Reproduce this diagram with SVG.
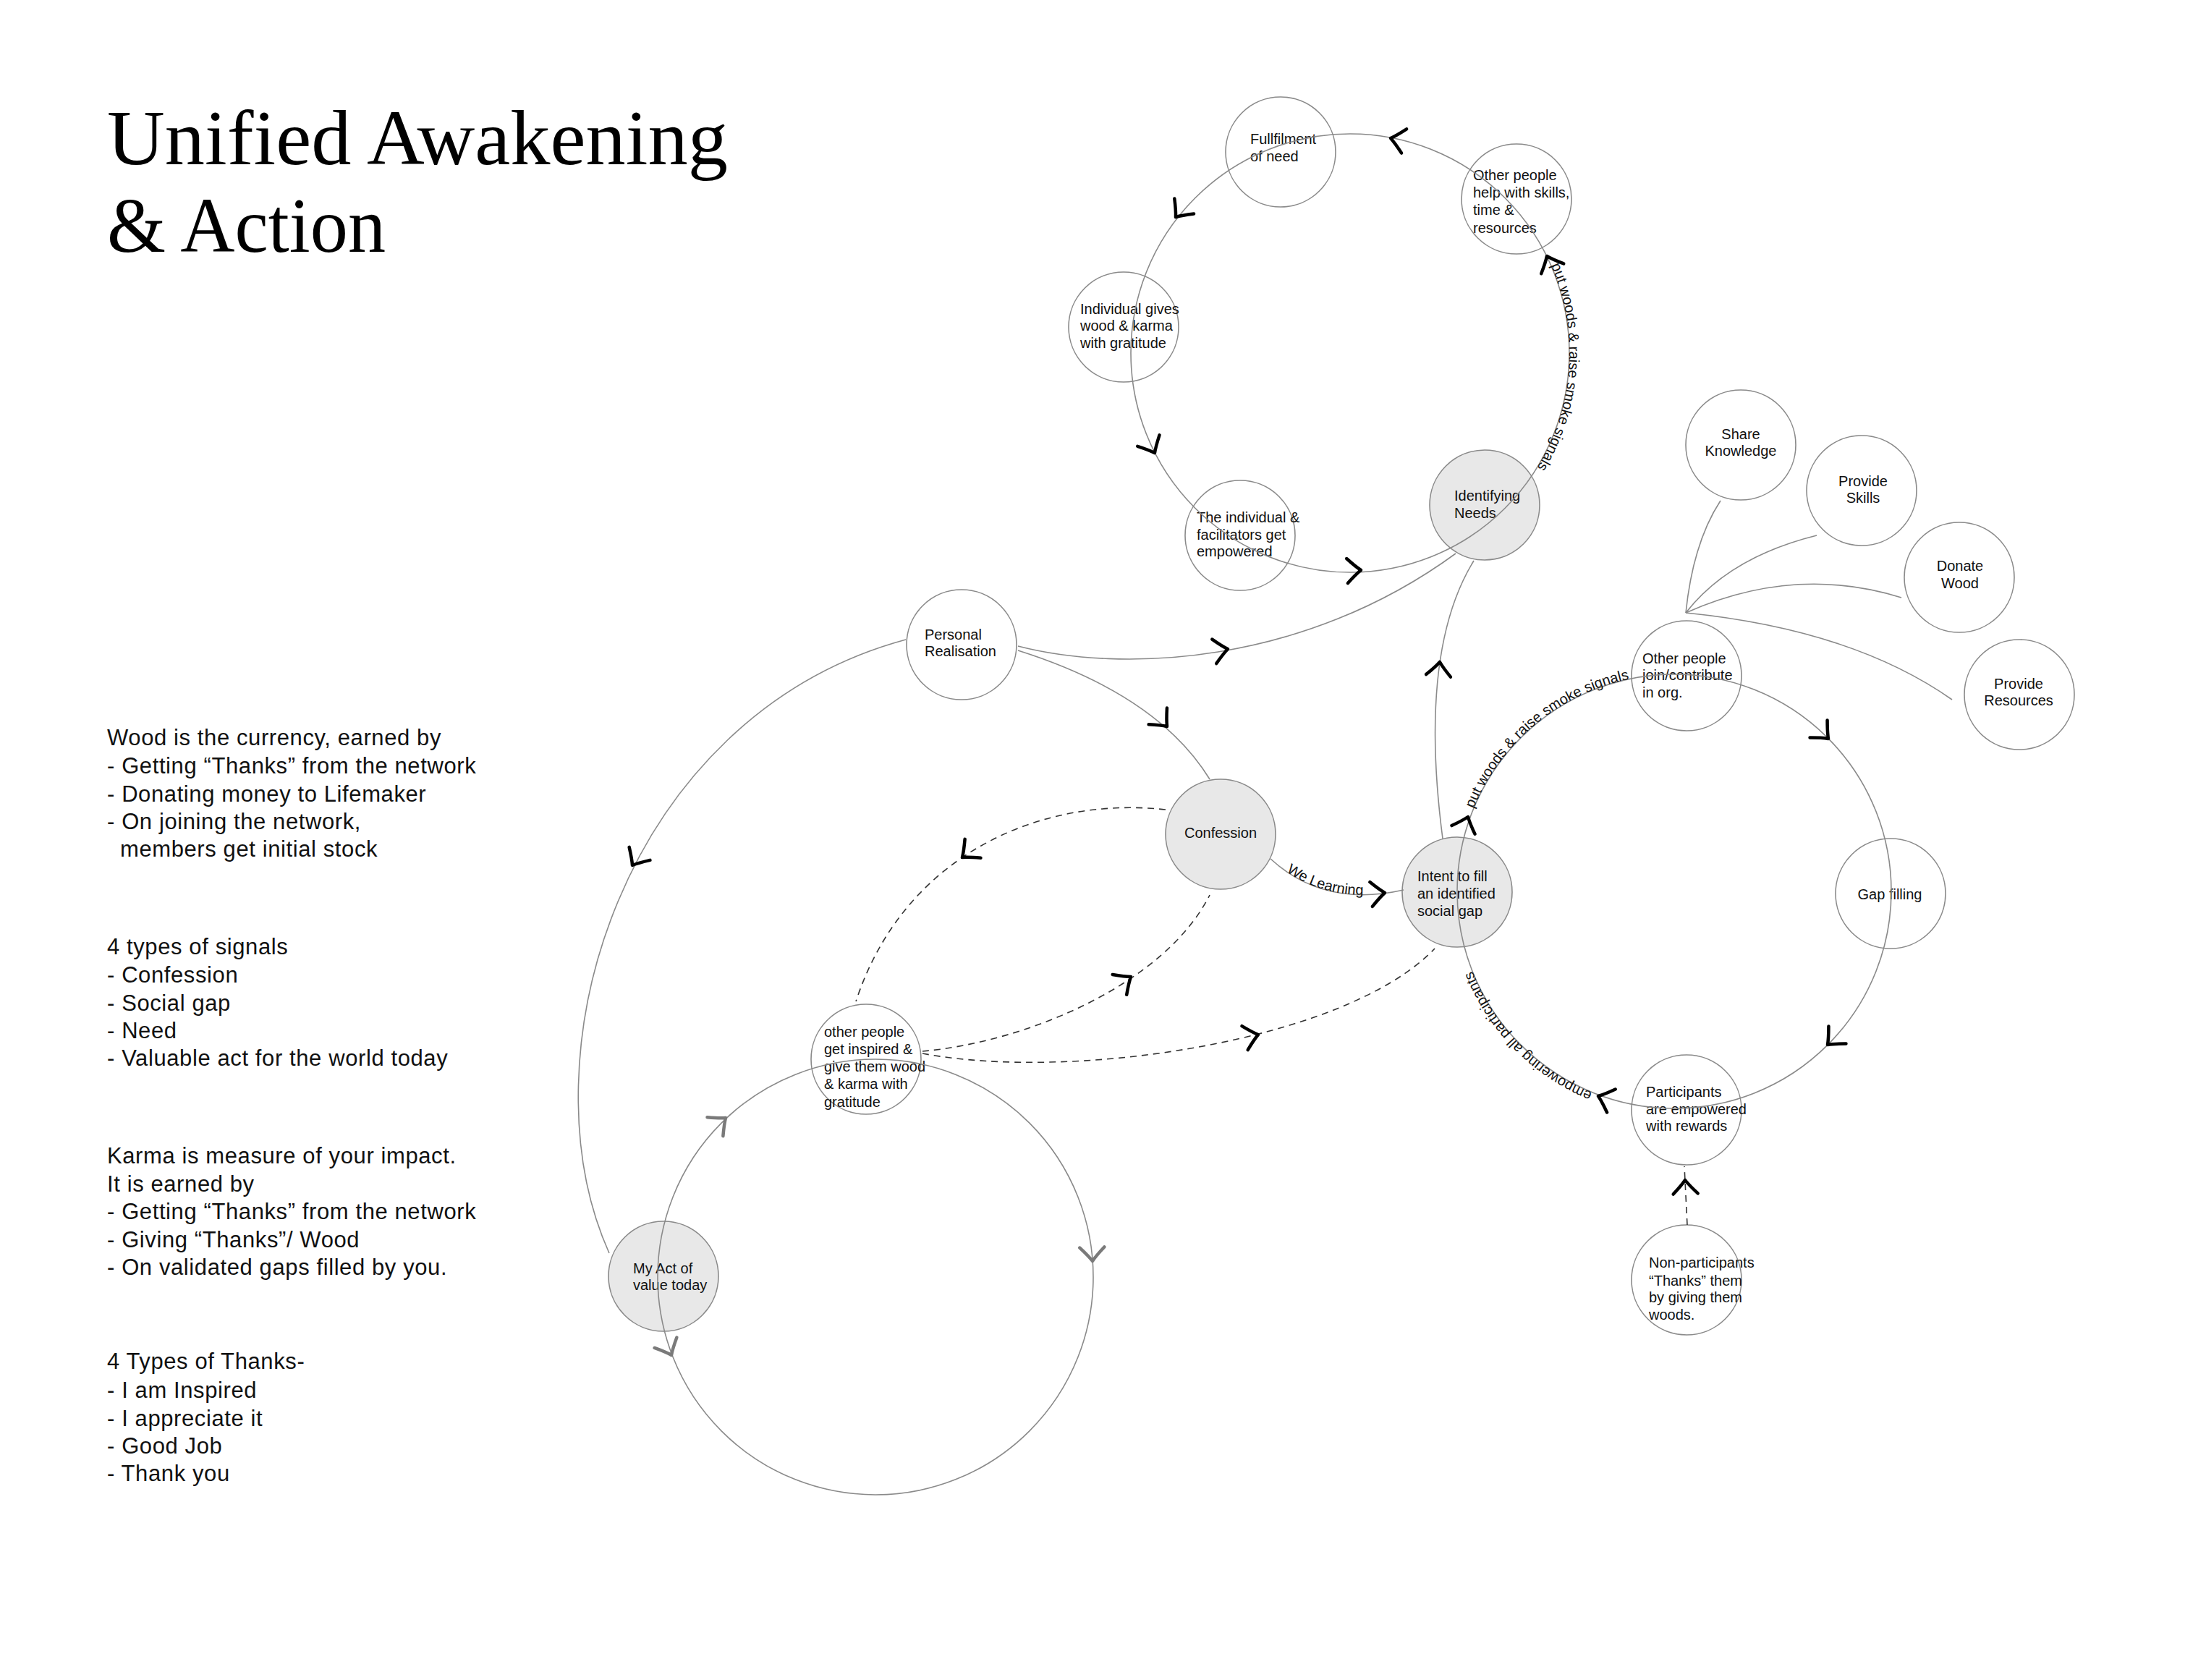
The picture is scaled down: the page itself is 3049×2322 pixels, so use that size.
<svg xmlns="http://www.w3.org/2000/svg" xmlns:xlink="http://www.w3.org/1999/xlink" width="3049" height="2322" viewBox="0 0 3049 2322">
<style>
.node{fill:#ffffff;stroke:#8a8a8a;stroke-width:1.6}
.node.sig{fill:#e8e8e8}
.nt{font-family:"Liberation Sans",Arial,sans-serif;font-size:20px;fill:#111}
.ntc{font-family:"Liberation Sans",Arial,sans-serif;font-size:20px;fill:#111;text-anchor:middle}
.ln{fill:none;stroke:#8a8a8a;stroke-width:1.6}
.dash{fill:none;stroke:#333;stroke-width:1.6;stroke-dasharray:9 7}
.ah{fill:none;stroke:#000;stroke-width:4.5;stroke-linecap:round;stroke-linejoin:round}
.ahg{fill:none;stroke:#7a7a7a;stroke-width:4.5;stroke-linecap:round;stroke-linejoin:round}
.lab{font-family:"Liberation Sans",Arial,sans-serif;font-size:20px;fill:#111}
.title{font-family:"Liberation Serif","Times New Roman",serif;font-size:108px;fill:#000}
.body{font-family:"Liberation Sans",Arial,sans-serif;font-size:31px;fill:#111;letter-spacing:0.6px}
</style>
<defs>
<path id="chev" d="M-19,-17 Q-7,-5 0,0 Q-7,5 -19,17"/>
<path id="tpTop" d="M2142.8,364.8 A303,303 0 0 1 2098.1,682.8"/>
<path id="tpRight1" d="M2035.8,1119.6 A300,300 0 0 1 2251.6,938.6"/>
<path id="tpRight2" d="M2206.5,1512.1 A300,300 0 0 1 2032.1,1334.6"/>
<path id="tpLearn" d="M1756,1187 Q1830,1255 1940,1230"/>
</defs>
<rect width="3049" height="2322" fill="#ffffff"/>

<g id="title">
<text class="title" x="148" y="227" textLength="858" lengthAdjust="spacingAndGlyphs">Unified Awakening</text>
<text class="title" x="148" y="348" textLength="385" lengthAdjust="spacingAndGlyphs">&amp; Action</text>
</g>

<g id="notes">
<text class="body" x="148" y="1030">Wood is the currency, earned by</text>
<text class="body" x="148" y="1069">- Getting “Thanks” from the network</text>
<text class="body" x="148" y="1108">- Donating money to Lifemaker</text>
<text class="body" x="148" y="1146">- On joining the network,</text>
<text class="body" x="166" y="1184">members get initial stock</text>
<text class="body" x="148" y="1319">4 types of signals</text>
<text class="body" x="148" y="1358">- Confession</text>
<text class="body" x="148" y="1397">- Social gap</text>
<text class="body" x="148" y="1435">- Need</text>
<text class="body" x="148" y="1473">- Valuable act for the world today</text>
<text class="body" x="148" y="1608">Karma is measure of your impact.</text>
<text class="body" x="148" y="1647">It is earned by</text>
<text class="body" x="148" y="1685">- Getting “Thanks” from the network</text>
<text class="body" x="148" y="1724">- Giving “Thanks”/ Wood</text>
<text class="body" x="148" y="1762">- On validated gaps filled by you.</text>
<text class="body" x="148" y="1892">4 Types of Thanks-</text>
<text class="body" x="148" y="1932">- I am Inspired</text>
<text class="body" x="148" y="1971">- I appreciate it</text>
<text class="body" x="148" y="2009">- Good Job</text>
<text class="body" x="148" y="2047">- Thank you</text>
</g>

<g id="n-fulfilment">
<circle class="node" cx="1770" cy="210" r="76"/>
<text class="nt" x="1728" y="199">Fullfilment</text>
<text class="nt" x="1728" y="223">of need</text>
</g>
<g id="n-help">
<circle class="node" cx="2096" cy="275" r="76"/>
<text class="nt" x="2036" y="249">Other people</text>
<text class="nt" x="2036" y="273">help with skills,</text>
<text class="nt" x="2036" y="297">time &amp;</text>
<text class="nt" x="2036" y="322">resources</text>
</g>
<g id="n-gives">
<circle class="node" cx="1553" cy="452" r="76"/>
<text class="nt" x="1493" y="434">Individual gives</text>
<text class="nt" x="1493" y="457">wood &amp; karma</text>
<text class="nt" x="1493" y="481">with gratitude</text>
</g>
<g id="n-empowered">
<circle class="node" cx="1714" cy="740" r="76"/>
<text class="nt" x="1654" y="722">The individual &amp;</text>
<text class="nt" x="1654" y="746">facilitators get</text>
<text class="nt" x="1654" y="769">empowered</text>
</g>
<g id="n-needs">
<circle class="node sig" cx="2052" cy="698" r="76"/>
<text class="nt" x="2010" y="692">Identifying</text>
<text class="nt" x="2010" y="716">Needs</text>
</g>
<g id="n-realisation">
<circle class="node" cx="1329" cy="891" r="76"/>
<text class="nt" x="1278" y="884">Personal</text>
<text class="nt" x="1278" y="907">Realisation</text>
</g>
<g id="n-confession">
<circle class="node sig" cx="1687" cy="1153" r="76"/>
<text class="ntc" x="1687" y="1158">Confession</text>
</g>
<g id="n-intent">
<circle class="node sig" cx="2014" cy="1233" r="76"/>
<text class="nt" x="1959" y="1218">Intent to fill</text>
<text class="nt" x="1959" y="1242">an identified</text>
<text class="nt" x="1959" y="1266">social gap</text>
</g>
<g id="n-join">
<circle class="node" cx="2331" cy="934" r="76"/>
<text class="nt" x="2270" y="917">Other people</text>
<text class="nt" x="2270" y="940">join/contribute</text>
<text class="nt" x="2270" y="964">in org.</text>
</g>
<g id="n-gap">
<circle class="node" cx="2613" cy="1235" r="76"/>
<text class="ntc" x="2612" y="1243">Gap filling</text>
</g>
<g id="n-participants">
<circle class="node" cx="2331" cy="1534" r="76"/>
<text class="nt" x="2275" y="1516">Participants</text>
<text class="nt" x="2275" y="1540">are empowered</text>
<text class="nt" x="2275" y="1563">with rewards</text>
</g>
<g id="n-nonparticipants">
<circle class="node" cx="2331" cy="1769" r="76"/>
<text class="nt" x="2279" y="1752">Non-participants</text>
<text class="nt" x="2279" y="1777">“Thanks” them</text>
<text class="nt" x="2279" y="1800">by giving them</text>
<text class="nt" x="2279" y="1824">woods.</text>
</g>
<g id="n-share">
<circle class="node" cx="2406" cy="615" r="76"/>
<text class="ntc" x="2406" y="607">Share</text>
<text class="ntc" x="2406" y="630">Knowledge</text>
</g>
<g id="n-skills">
<circle class="node" cx="2573" cy="678" r="76"/>
<text class="ntc" x="2575" y="672">Provide</text>
<text class="ntc" x="2575" y="695">Skills</text>
</g>
<g id="n-wood">
<circle class="node" cx="2708" cy="798" r="76"/>
<text class="ntc" x="2709" y="789">Donate</text>
<text class="ntc" x="2709" y="813">Wood</text>
</g>
<g id="n-resources">
<circle class="node" cx="2791" cy="960" r="76"/>
<text class="ntc" x="2790" y="952">Provide</text>
<text class="ntc" x="2790" y="975">Resources</text>
</g>
<g id="n-inspired">
<circle class="node" cx="1197" cy="1464" r="76"/>
<text class="nt" x="1139" y="1433">other people</text>
<text class="nt" x="1139" y="1457">get inspired &amp;</text>
<text class="nt" x="1139" y="1481">give them wood</text>
<text class="nt" x="1139" y="1505">&amp; karma with</text>
<text class="nt" x="1139" y="1530">gratitude</text>
</g>
<g id="n-myact">
<circle class="node sig" cx="917" cy="1764" r="76"/>
<text class="nt" x="875" y="1760">My Act of</text>
<text class="nt" x="875" y="1783">value today</text>
</g>

<g id="connectors">
<circle class="ln" cx="1866" cy="488" r="303"/>
<circle class="ln" cx="2314" cy="1232" r="300"/>
<circle class="ln" cx="1210" cy="1765" r="301"/>
<path class="ln" d="M1407,893 C1550,930 1800,920 2012,765"/>
<path class="ln" d="M1407,899 Q1600,960 1672,1077"/>
<path class="ln" d="M1252,884 C860,990 720,1460 842,1732"/>
<path class="ln" d="M1994,1159 Q1960,900 2037,775"/>
<path class="ln" d="M1756,1187 Q1830,1255 1940,1230"/>
<path class="ln" d="M2330,847 Q2340,750 2378,692"/>
<path class="ln" d="M2330,847 Q2390,770 2511,740"/>
<path class="ln" d="M2330,847 Q2480,780 2628,826"/>
<path class="ln" d="M2330,847 Q2560,870 2698,967"/>
<path class="dash" d="M1611,1119 C1440,1100 1250,1180 1183,1384"/>
<path class="dash" d="M1275,1453 C1420,1440 1610,1360 1672,1237"/>
<path class="dash" d="M1275,1456 C1480,1495 1860,1440 1983,1311"/>
<path class="dash" d="M2332,1693 L2328,1612"/>

<text class="lab"><textPath href="#tpTop" xlink:href="#tpTop" startOffset="2">put woods &amp; raise smoke signals</textPath></text>
<text class="lab"><textPath href="#tpRight1" xlink:href="#tpRight1" startOffset="2">put woods &amp; raise smoke signals</textPath></text>
<text class="lab"><textPath href="#tpRight2" xlink:href="#tpRight2" startOffset="6">empowering all participants</textPath></text>
<text class="lab"><textPath href="#tpLearn" xlink:href="#tpLearn" startOffset="28">We Learning</textPath></text>

<use href="#chev" class="ah" transform="translate(1922,191) rotate(192)"/>
<use href="#chev" class="ah" transform="translate(1625,300) rotate(128)"/>
<use href="#chev" class="ah" transform="translate(1596,626) rotate(63)"/>
<use href="#chev" class="ah" transform="translate(1881,788) rotate(-3)"/>
<use href="#chev" class="ah" transform="translate(2138,354) rotate(-114)"/>
<use href="#chev" class="ah" transform="translate(1697,897) rotate(-10)"/>
<use href="#chev" class="ah" transform="translate(1613,1004) rotate(48)"/>
<use href="#chev" class="ah" transform="translate(874,1196) rotate(122)"/>
<use href="#chev" class="ah" transform="translate(1990,915) rotate(-84)"/>
<use href="#chev" class="ah" transform="translate(1914,1234) rotate(-6)"/>
<use href="#chev" class="ah" transform="translate(2029,1129) rotate(-70)"/>
<use href="#chev" class="ah" transform="translate(2527,1021) rotate(45)"/>
<use href="#chev" class="ah" transform="translate(2526,1444) rotate(135)"/>
<use href="#chev" class="ah" transform="translate(2209,1515) rotate(200)"/>
<use href="#chev" class="ah" transform="translate(1330,1185) rotate(140)"/>
<use href="#chev" class="ah" transform="translate(1563,1350) rotate(-35)"/>
<use href="#chev" class="ah" transform="translate(1739,1430) rotate(-14)"/>
<use href="#chev" class="ah" transform="translate(2329,1631) rotate(-92)"/>
<use href="#chev" class="ahg" transform="translate(1003,1545) rotate(-40)"/>
<use href="#chev" class="ahg" transform="translate(1510,1743) rotate(88)"/>
<use href="#chev" class="ahg" transform="translate(928,1873) rotate(65)"/>
</g>
</svg>
